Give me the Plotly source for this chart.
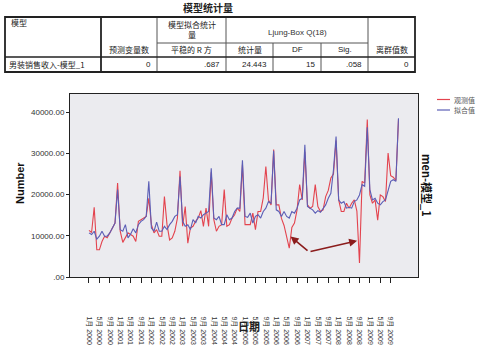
import plotly.graph_objects as go

# ---- data: monthly men's clothing sales, Jan 2000 – Dec 2009 ----
observed = [
    11300, 10800, 16900, 6600, 6600, 8600, 9900, 9500, 10700, 11900, 13100, 22800,
    11100, 8400, 9500, 10700, 10300, 9900, 8600, 13500, 13900, 14300, 14700, 19100,
    12700, 10700, 11500, 9900, 9900, 19500, 12700, 9000, 9500, 11100, 14300, 25800,
    12300, 17100, 8200, 11900, 12300, 13500, 14300, 16100, 12300, 16700, 12300, 25400,
    13900, 11100, 12300, 12700, 21200, 12300, 12700, 14300, 15100, 16700, 15900, 27300,
    12700, 12700, 12700, 15500, 11500, 15900, 15900, 19200, 26800, 18700, 17500, 30900,
    17500, 17500, 14200, 12500, 9500, 7000, 12000, 13100, 16300, 22400, 18700, 30400,
    17500, 16700, 17100, 22400, 17100, 15900, 16300, 19500, 21000, 24000, 25000, 33100,
    18700, 15900, 15900, 17900, 16700, 17900, 18700, 16000, 3400, 23200, 22800, 38200,
    19900, 17900, 18700, 13800, 19900, 19500, 18300, 30100, 24600, 24200, 23400, 38300,
]
fitted = [
    10700, 10300, 11100, 9200, 9900, 11100, 9900, 9900, 10700, 11900, 13100, 21200,
    11500, 11100, 12700, 9500, 10400, 11700, 10700, 12700, 13500, 13900, 14700, 23200,
    11900, 11100, 13300, 11100, 11100, 12300, 11500, 12700, 13500, 14700, 15100, 24400,
    13500, 12300, 12700, 11500, 13900, 13100, 14700, 14300, 15100, 15500, 15900, 26400,
    14300, 13900, 14700, 12700, 12700, 15100, 13900, 14300, 15900, 16700, 16700, 28300,
    14700, 14500, 15500, 13100, 14700, 15100, 14300, 15900, 16700, 18300, 17900, 30600,
    16300, 15900, 14700, 15900, 14700, 14300, 15900, 15500, 16700, 18700, 19100, 32100,
    17100, 16700, 16300, 15500, 16100, 15700, 16700, 17500, 19100, 20300, 26000, 34100,
    18700, 17900, 18300, 16700, 16900, 16700, 18300, 18700, 19900, 22400, 22000, 36300,
    21200, 18700, 19100, 17900, 17500, 18300, 18700, 21200, 23200, 23600, 23200, 38500,
]
month_index = list(range(len(observed)))

years = list(range(2000, 2010))
tick_month_names = ["1月", "5月", "9月"]
tick_text = [f"{m} {y}" for y in years for m in tick_month_names]
tick_vals = list(range(0, 120, 4))

y_tick_vals = [0, 10000, 20000, 30000, 40000]
y_tick_text = [".00", "10000.00", "20000.00", "30000.00", "40000.00"]

series_names = ["观测值", "拟合值"]
series_colors = ["#e3434e", "#5b5eb6"]

# ---- summary table content ----
table_title = "模型统计量"
table_header_top = ["模型", "模型拟合统计<br>量", "Ljung-Box Q(18)"]
table_header_sub = ["预测变量数", "平稳的 R 方", "统计量", "DF", "Sig.", "离群值数"]
table_row_label = "男装销售收入-模型_1"
table_row_values = ["0", ".687", "24.443", "15", ".058", "0"]

W, H = 485, 347
ML, MR, MT, MB = 70, 67, 94, 70
PW, PH = W - ML - MR, H - MT - MB

FONT = "Liberation Sans, Arial, Noto Sans CJK SC, sans-serif"
CJK = "Noto Sans CJK SC, Liberation Sans, sans-serif"


def px(x, y):
    """Convert page pixel position to paper coordinates."""
    return (x - ML) / PW, (H - MB - y) / PH


fig = go.Figure()
for vals, name, col in zip([observed, fitted], series_names, series_colors):
    fig.add_trace(go.Scatter(
        x=month_index, y=vals, mode="lines", name=name,
        line=dict(color=col, width=1.1), showlegend=False,
    ))

shapes = []
annotations = []


def hline(x0, x1, y, w=1, c="#555"):
    a0, b = px(x0, y)
    a1, _ = px(x1, y)
    shapes.append(dict(type="line", xref="paper", yref="paper", x0=a0, x1=a1, y0=b, y1=b,
                       line=dict(color=c, width=w)))


def vline(x, y0, y1, w=1, c="#555"):
    a, b0 = px(x, y0)
    _, b1 = px(x, y1)
    shapes.append(dict(type="line", xref="paper", yref="paper", x0=a, x1=a, y0=b0, y1=b1,
                       line=dict(color=c, width=w)))


def text(x, y, s, size=8, anchor="center", bold=False, color="#222", family=CJK, angle=0):
    a, b = px(x, y)
    annotations.append(dict(xref="paper", yref="paper", x=a, y=b, text=f"<b>{s}</b>" if bold else s,
                            showarrow=False, xanchor=anchor, yanchor="middle", textangle=angle,
                            borderpad=0, font=dict(size=size, color=color, family=family)))


# table frame and rules
TX0, TX1, TY0, TY1 = 5, 415, 17, 72
cols = [101, 157, 226, 273, 321, 368]
vline(cols[0], TY0, TY1, w=1.8, c="#222")
vline(cols[1], TY0, TY1)
vline(cols[2], TY0, TY1)
vline(cols[3], 43, TY1)
vline(cols[4], 43, TY1)
vline(cols[5], TY0, TY1)
hline(cols[1], cols[5], 43)
hline(TX0, TX1, 57, w=1.4, c="#222")
a0, b0 = px(TX0, TY0)
a1, b1 = px(TX1, TY1)
shapes.append(dict(type="rect", xref="paper", yref="paper", x0=a0, x1=a1, y0=b1, y1=b0,
                   line=dict(color="#222", width=1.8)))

text(208, 8, table_title, size=10, bold=True)
text(10, 22, table_header_top[0], anchor="left")
text((cols[1] + cols[2]) / 2, 29, table_header_top[1], size=8)
text((cols[2] + cols[5]) / 2, 32, table_header_top[2], family=FONT, color="#333")
edges = [cols[0], cols[1], cols[2], cols[3], cols[4], cols[5], TX1]
for i, s in enumerate(table_header_sub):
    text((edges[i] + edges[i + 1]) / 2, 50, s, family=CJK if i not in (3, 4) else FONT)
text(8, 64.5, table_row_label, anchor="left")
for i, s in enumerate(table_row_values):
    text(edges[i + 1] - 5, 64.5, s, anchor="right", family=FONT)

# legend
for i, (name, col) in enumerate(zip(series_names, series_colors)):
    yy = 99.5 + 10.5 * i
    hline(437, 450, yy, w=1.2, c=col)
    text(453, yy, name, size=7, anchor="left", color="#555")

# axis titles
text(20, 183, "Number", size=11, bold=True, angle=-90, family=FONT, color="#111")
text(427, 185, "men-模型_1", size=11, bold=True, angle=90, color="#111")
text(249, 326, "日期", size=11, bold=True, color="#222")

# arrows pointing at the two unusual dips
arrow_tail = (84.6, 6100)
arrow_tips = [(77.5, 9800), (103.1, 8800)]
for tx, ty in arrow_tips:
    annotations.append(dict(x=tx, y=ty, xref="x", yref="y", ax=arrow_tail[0], ay=arrow_tail[1],
                            axref="x", ayref="y", showarrow=True, arrowhead=2, arrowsize=1,
                            arrowwidth=1.6, arrowcolor="#8b1c1c", text=""))

fig.update_layout(
    width=W, height=H, autosize=False,
    margin=dict(l=ML, r=MR, t=MT, b=MB, pad=0, autoexpand=False),
    paper_bgcolor="white", plot_bgcolor="#ebebef",
    shapes=shapes, annotations=annotations,
    font=dict(family=FONT, size=8, color="#333"),
    xaxis=dict(range=[-7.3, 126.5], tickvals=tick_vals, ticktext=tick_text, tickangle=90,
               ticks="outside", ticklen=5, tickcolor="#222", showline=True, mirror=True,
               linecolor="#222", linewidth=1, showgrid=False, zeroline=False, automargin=False,
               ticklabelstandoff=32, tickfont=dict(size=7, family=FONT, color="#333")),
    yaxis=dict(range=[0, 44400], tickvals=y_tick_vals, ticktext=y_tick_text,
               ticks="outside", ticklen=3, tickcolor="#222", showline=True, mirror=True,
               linecolor="#222", linewidth=1, showgrid=False, zeroline=False, automargin=False,
               tickfont=dict(size=8, family=FONT, color="#333")),
)

fig.write_html("out.html")
